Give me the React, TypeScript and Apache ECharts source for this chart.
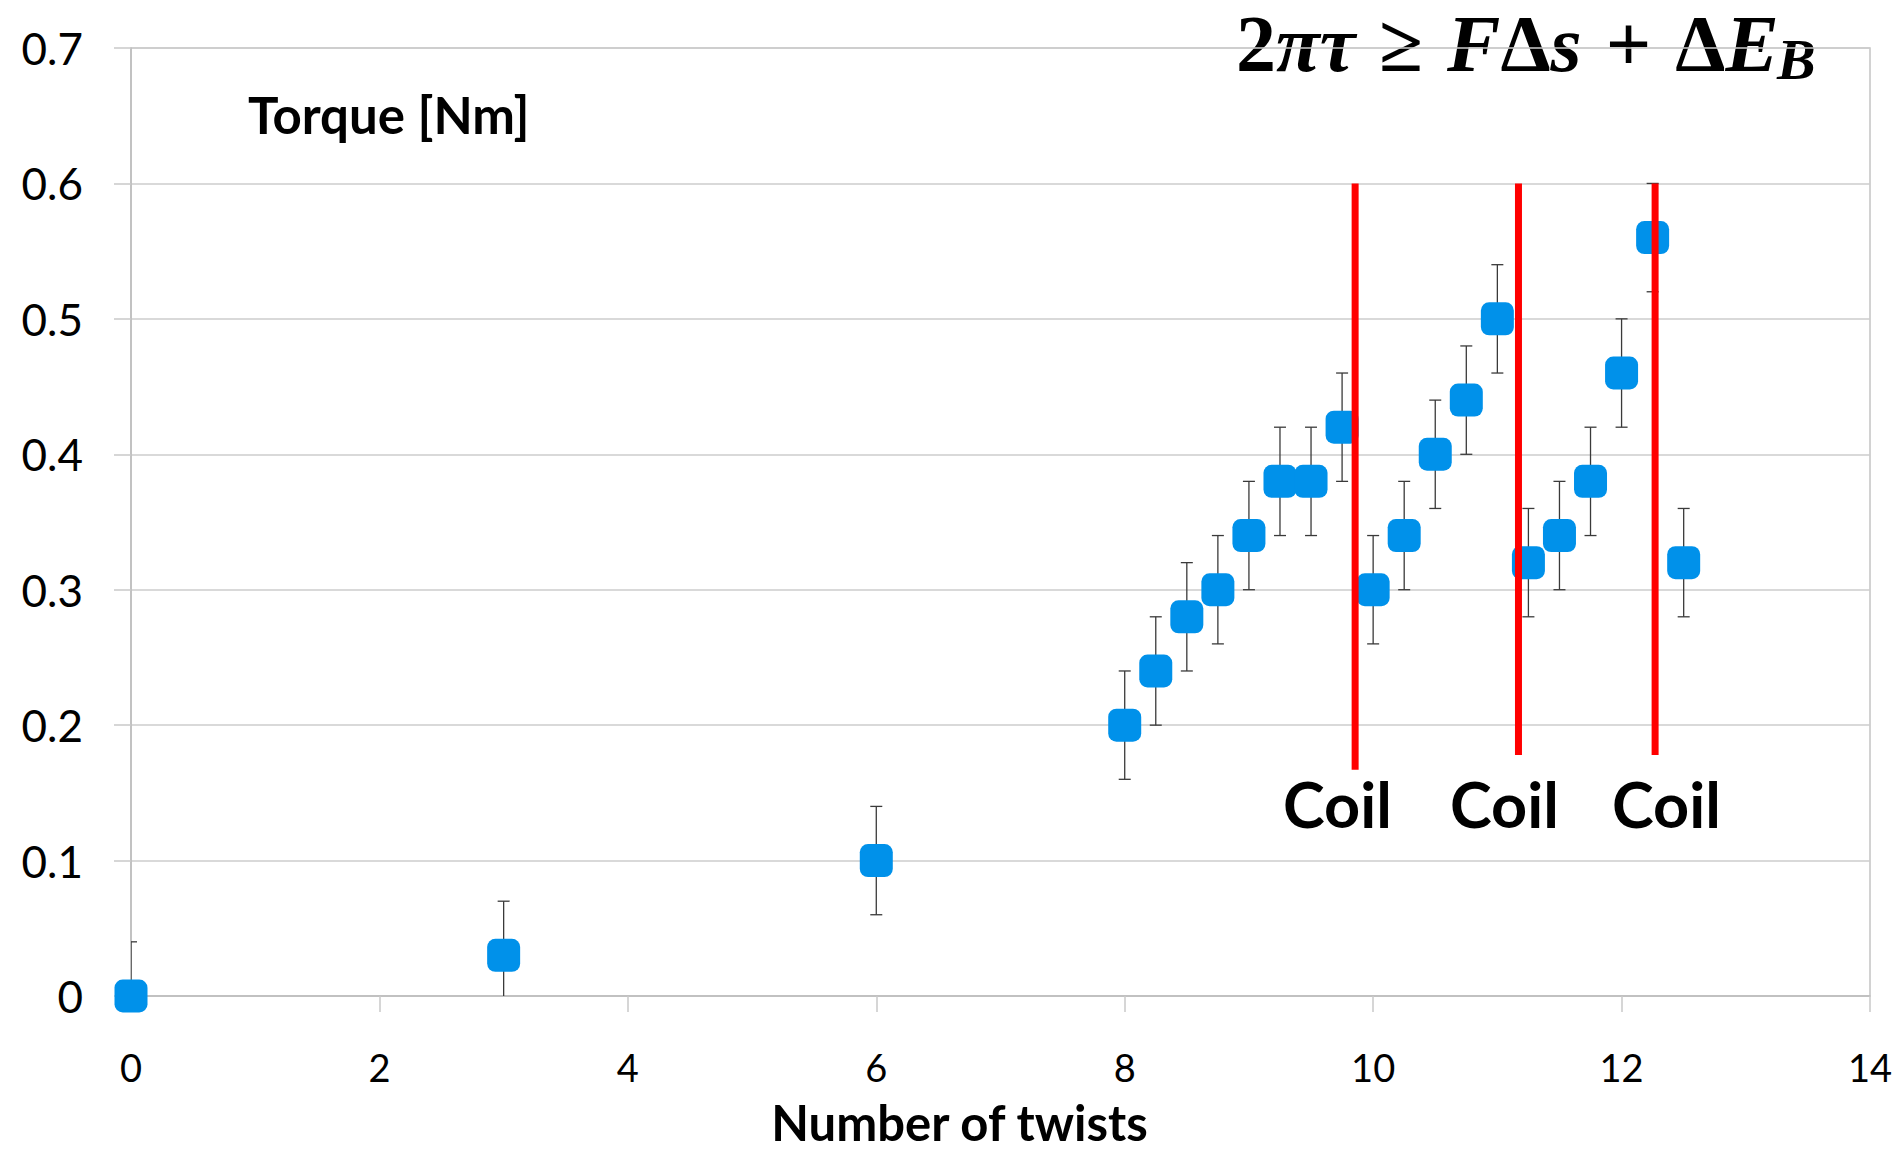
import React, { useEffect, useRef } from "react";
import * as echarts from "echarts";

// Measured torque versus number of twists, with symmetric error bars
const twists = [0, 3, 6, 8, 8.25, 8.5, 8.75, 9, 9.25, 9.5, 9.75, 10, 10.25, 10.5, 10.75, 11, 11.25, 11.5, 11.75, 12, 12.25, 12.5];
const torque = [0, 0.03, 0.1, 0.2, 0.24, 0.28, 0.3, 0.34, 0.38, 0.38, 0.42, 0.3, 0.34, 0.4, 0.44, 0.5, 0.32, 0.34, 0.38, 0.46, 0.56, 0.32];
const torqueErr = [0.04, 0.04, 0.04, 0.04, 0.04, 0.04, 0.04, 0.04, 0.04, 0.04, 0.04, 0.04, 0.04, 0.04, 0.04, 0.04, 0.04, 0.04, 0.04, 0.04, 0.04, 0.04];

// Coiling events: vertical markers (x position, top and bottom in torque units)
const coilX = [9.855, 11.17, 12.27];
const coilTop = [0.6, 0.6, 0.6];
const coilBottom = [0.167, 0.178, 0.178];
const coilLabel = ["Coil", "Coil", "Coil"];

// Axis ticks
const xTicks = { min: 0, max: 14, interval: 2 };
const yTicks = { min: 0, max: 0.7, interval: 0.1 };

const LABEL_FONT = "Lato, 'Noto Sans', sans-serif";
const MATH_FONT = "'Liberation Serif', 'DejaVu Serif', serif";

export default function App() {
  const ref = useRef<HTMLDivElement>(null);

  useEffect(() => {
    if (!ref.current) return;
    const chart = echarts.init(ref.current, undefined, { renderer: "svg" });

    const points = twists.map((x, i) => [x, torque[i]]);
    const bars = twists.map((x, i) => [x, torque[i] - torqueErr[i], torque[i] + torqueErr[i]]);
    const coils = coilX.map((x, i) => [x, coilTop[i], coilBottom[i]]);

    const option: any = {
      animation: false,
      backgroundColor: "#ffffff",
      grid: {
        left: 131,
        right: 30,
        top: 48,
        bottom: 156,
        containLabel: false,
        outerBoundsMode: "none",
        show: true,
        borderColor: "#c4c4c4",
        borderWidth: 1.5,
      },
      xAxis: {
        type: "value",
        min: xTicks.min,
        max: xTicks.max,
        interval: xTicks.interval,
        axisLine: { show: true, lineStyle: { color: "#bdbdbd", width: 1.5 } },
        axisTick: { show: true, length: 16, lineStyle: { color: "#c8c8c8", width: 1.5 } },
        splitLine: { show: false },
        axisLabel: {
          margin: 52,
          color: "#000",
          fontSize: 38,
          fontFamily: LABEL_FONT,
        },
        name: "Number of twists",
        nameLocation: "middle",
        nameGap: 101,
        nameTextStyle: {
          color: "#000",
          fontSize: 49,
          fontWeight: "bold",
          fontFamily: LABEL_FONT,
          padding: [0, 82, 0, 0],
        },
      },
      yAxis: {
        type: "value",
        min: yTicks.min,
        max: yTicks.max,
        interval: yTicks.interval,
        axisLine: { show: true, lineStyle: { color: "#bdbdbd", width: 1.5 } },
        axisTick: { show: true, length: 17, lineStyle: { color: "#c8c8c8", width: 1.5 } },
        splitLine: { show: true, lineStyle: { color: "#cdcdcd", width: 1.5 } },
        axisLabel: {
          margin: 48,
          color: "#000",
          fontSize: 44,
          fontFamily: LABEL_FONT,
          padding: [12, 0, 0, 0],
          formatter: (v: number) => String(Math.round(v * 10) / 10),
        },
      },
      series: [
        {
          type: "custom",
          name: "error",
          clip: true,
          z: 2,
          data: bars,
          renderItem: (params: any, api: any) => {
            const x = api.value(0);
            const lo = api.coord([x, api.value(1)]);
            const hi = api.coord([x, api.value(2)]);
            const cap = 6;
            const style = { stroke: "#3a3a3a", lineWidth: 1.3 };
            return {
              type: "group",
              children: [
                { type: "line", shape: { x1: lo[0], y1: lo[1], x2: hi[0], y2: hi[1] }, style },
                { type: "line", shape: { x1: lo[0] - cap, y1: lo[1], x2: lo[0] + cap, y2: lo[1] }, style },
                { type: "line", shape: { x1: hi[0] - cap, y1: hi[1], x2: hi[0] + cap, y2: hi[1] }, style },
              ],
            };
          },
        },
        {
          type: "scatter",
          name: "Torque",
          z: 3,
          data: points,
          symbol: "roundRect",
          symbolSize: 33,
          itemStyle: { color: "#0091EA", opacity: 1 },
          clip: false,
        },
        {
          type: "custom",
          name: "coil",
          z: 4,
          data: coils,
          renderItem: (params: any, api: any) => {
            const x = api.value(0);
            const top = api.coord([x, api.value(1)]);
            const bottom = api.coord([x, api.value(2)]);
            const w = 7;
            return {
              type: "rect",
              shape: { x: top[0] - w / 2, y: top[1], width: w, height: bottom[1] - top[1] },
              style: { fill: "#FF0000" },
            };
          },
        },
      ],
      graphic: [
        {
          type: "text",
          left: 248,
          top: 89,
          style: {
            text: "Torque [Nm]",
            fill: "#000",
            font: `bold 51px ${LABEL_FONT}`,
          },
        },
        ...coilLabel.map((t, i) => ({
          type: "text",
          left: [1283, 1450, 1612][i],
          top: 772,
          style: {
            text: t,
            fill: "#000",
            font: `bold 63px ${LABEL_FONT}`,
          },
        })),
        {
          type: "text",
          left: 1236,
          top: 4,
          style: {
            text: "{n|2}{it|πτ}{op|≥}{it|F}{n|Δ}{it|s}{op|+}{n|Δ}{it|E}",
            fill: "#000",
            rich: {
              n: { fontFamily: MATH_FONT, fontSize: 80, fontWeight: "bold", fontStyle: "normal", fill: "#000" },
              it: { fontFamily: MATH_FONT, fontSize: 80, fontWeight: "bold", fontStyle: "italic", fill: "#000" },
              op: {
                fontFamily: MATH_FONT,
                fontSize: 80,
                fontWeight: "bold",
                fontStyle: "normal",
                fill: "#000",
                padding: [0, 24, 0, 24],
              },
            },
          },
        },
        {
          type: "text",
          left: 1777,
          top: 30,
          style: {
            text: "B",
            fill: "#000",
            font: `italic bold 58px ${MATH_FONT}`,
          },
        },
      ],
    };

    chart.setOption(option);
    return () => chart.dispose();
  }, []);

  return (
    <div
      ref={ref}
      style={{ position: "absolute", left: 0, top: 0, width: 1900, height: 1152 }}
    />
  );
}
